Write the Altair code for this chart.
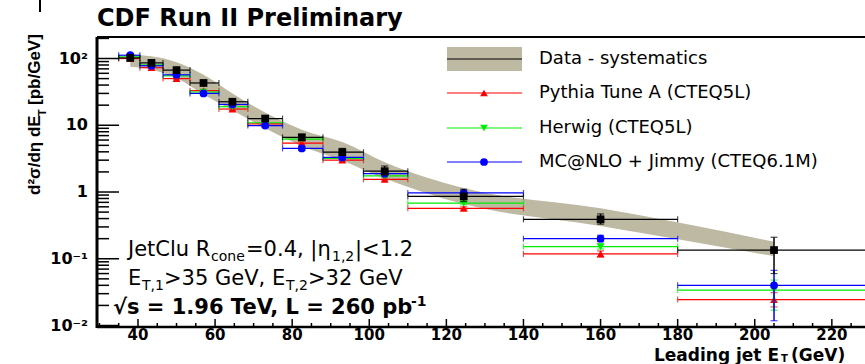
import altair as alt
import pandas as pd

# ---------------- data ----------------
et_center = [38, 43.5, 50, 57, 64.5, 73, 82.5, 93, 104, 124.5, 160, 205]
et_low = [35, 40.5, 46.5, 53.5, 61, 68.5, 77.5, 88, 98.5, 110, 140, 180]
et_high = [40.5, 46.5, 53.5, 61, 68.5, 77.5, 88, 98.5, 110, 140, 180, 230]

data_val = [102, 86, 67, 43, 22.5, 12.6, 6.6, 3.95, 2.05, 0.86, 0.39, 0.135]
data_lo = [95, 80, 62, 40, 20.5, 11.5, 6.0, 3.6, 1.8, 0.72, 0.33, 0.06]
data_hi = [109, 92, 72, 46, 24.5, 13.8, 7.3, 4.5, 2.45, 1.1, 0.47, 0.21]

band_lo = [75, 68, 51, 29, 16.8, 9.0, 4.9, 2.95, 1.6, 0.66, 0.31, 0.109]
band_hi = [115, 108, 88, 57, 30, 15.5, 8.6, 5.6, 2.8, 1.15, 0.57, 0.18]

pythia_val = [100, 73, 50, 33, 17.5, 10.5, 5.4, 3.0, 1.55, 0.57, 0.118, 0.0245]
pythia_lo = [96, 70, 48, 31.5, 16.7, 10.0, 5.1, 2.85, 1.47, 0.54, 0.106, 0.019]
pythia_hi = [104, 76, 52, 34.5, 18.3, 11.0, 5.7, 3.15, 1.63, 0.60, 0.131, 0.031]

herwig_val = [106, 80, 55, 31.5, 19, 10.9, 6.2, 3.2, 1.75, 0.68, 0.152, 0.034]
herwig_lo = [102, 77, 52.5, 30, 18.1, 10.4, 5.9, 3.05, 1.66, 0.645, 0.14, 0.017]
herwig_hi = [110, 83, 57.5, 33, 19.9, 11.4, 6.5, 3.35, 1.84, 0.715, 0.165, 0.048]

mcnlo_val = [112, 78, 57, 30, 20.5, 9.9, 4.5, 3.3, 1.88, 0.97, 0.2, 0.04]
mcnlo_lo = [107, 74.5, 54.5, 28.5, 19.5, 9.4, 4.2, 3.1, 1.78, 0.91, 0.18, 0.0118]
mcnlo_hi = [117, 81.5, 59.5, 31.5, 21.5, 10.4, 4.8, 3.5, 1.98, 1.03, 0.225, 0.067]

legend_labels = ["Data - systematics", "Pythia Tune A (CTEQ5L)", "Herwig (CTEQ5L)",
                 "MC@NLO + Jimmy (CTEQ6.1M)"]

x_major_ticks = [40, 60, 80, 100, 120, 140, 160, 180, 200, 220]
x_tick_labels = ["40", "60", "80", "100", "120", "140", "160", "180", "200", "220"]
x_minor_ticks = [v for v in range(30, 230, 5) if v % 20 != 0]
y_major_ticks = [0.01, 0.1, 1, 10, 100]
y_tick_labels = ["10⁻²", "10⁻¹", "1", "10", "10²"]
y_minor_ticks = [m * 10.0 ** e for e in range(-2, 3) for m in range(2, 10) if m * 10.0 ** e < 210]

# ---------------- styling / layout ----------------
PX, PY = 97, 37            # plot origin in page pixels
W, H = 768, 290
BAND = "#bdb9a3"
RED, GREEN, BLUE = "#ff0000", "#00ee00", "#0000ff"
FONT = "DejaVu Sans"

xs = alt.Scale(domain=[29.37, 228.6], zero=False, nice=False)
ys = alt.Scale(type="log", domain=[0.0095, 210], nice=False)

one = pd.DataFrame({"k": [0]})


def frame(vals, lo, hi):
    return pd.DataFrame({"x": et_center, "xlo": et_low, "xhi": et_high,
                         "y": vals, "ylo": lo, "yhi": hi})


def X(f):
    return alt.X(f, type="quantitative", scale=xs, axis=None)


def Y(f):
    return alt.Y(f, type="quantitative", scale=ys, axis=None)


def series(df, color, shape, size, lw=1.2):
    b = alt.Chart(df)
    return [
        b.mark_rule(color=color, strokeWidth=lw, clip=True).encode(x=X("xlo"), x2="xhi", y=Y("y")),
        b.mark_tick(color=color, orient="vertical", size=6, thickness=lw, clip=True).encode(x=X("xlo"), y=Y("y")),
        b.mark_tick(color=color, orient="vertical", size=6, thickness=lw, clip=True).encode(x=X("xhi"), y=Y("y")),
        b.mark_rule(color=color, strokeWidth=lw + 0.3, clip=True).encode(x=X("x"), y=Y("ylo"), y2="yhi"),
        b.mark_tick(color=color, orient="horizontal", size=7, thickness=lw, clip=True).encode(x=X("x"), y=Y("ylo")),
        b.mark_tick(color=color, orient="horizontal", size=7, thickness=lw, clip=True).encode(x=X("x"), y=Y("yhi")),
        b.mark_point(shape=shape, filled=True, size=size, color=color, opacity=1, clip=True).encode(x=X("x"), y=Y("y")),
    ]


def txt(s, ax, ay, size, weight="normal", align="left", baseline="alphabetic", angle=0, font=FONT):
    kw = dict(text=s, fontSize=size, fontWeight=weight, align=align, baseline=baseline,
              font=font, color="black")
    if angle:
        kw["angle"] = angle
    return alt.Chart(one).mark_text(**kw).encode(x=alt.value(ax - PX), y=alt.value(ay - PY))


def hline(ax1, ax2, ay, color="black", width=1.2):
    return alt.Chart(one).mark_rule(color=color, strokeWidth=width).encode(
        x=alt.value(ax1 - PX), x2=alt.value(ax2 - PX), y=alt.value(ay - PY))


layers = []

# systematics band
band_df = pd.DataFrame({"x": et_center, "lo": band_lo, "hi": band_hi})
layers.append(
    alt.Chart(band_df).mark_area(color=BAND, opacity=1, interpolate="monotone", clip=True).encode(
        x=X("x"), y=Y("lo"), y2="hi")
)

# MC predictions and data
layers += series(frame(pythia_val, pythia_lo, pythia_hi), RED, "triangle-up", 60)
layers += series(frame(herwig_val, herwig_lo, herwig_hi), GREEN, "triangle-down", 60)
layers += series(frame(mcnlo_val, mcnlo_lo, mcnlo_hi), BLUE, "circle", 60)
layers += series(frame(data_val, data_lo, data_hi), "black", "square", 60, lw=1.2)

# axis lines
layers.append(alt.Chart(one).mark_rule(color="black", strokeWidth=3).encode(
    x=alt.value(0), y=alt.value(0), y2=alt.value(H + 1)))
layers.append(alt.Chart(one).mark_rule(color="black", strokeWidth=2.5).encode(
    x=alt.value(0), x2=alt.value(W), y=alt.value(H)))

# inward ticks
layers.append(alt.Chart(pd.DataFrame({"v": y_major_ticks})).mark_rule(color="black", strokeWidth=1.5)
              .encode(y=Y("v"), x=alt.value(0), x2=alt.value(22)))
layers.append(alt.Chart(pd.DataFrame({"v": y_minor_ticks})).mark_rule(color="black", strokeWidth=1.5)
              .encode(y=Y("v"), x=alt.value(0), x2=alt.value(12)))
layers.append(alt.Chart(pd.DataFrame({"v": x_major_ticks})).mark_rule(color="black", strokeWidth=1.5)
              .encode(x=X("v"), y=alt.value(H), y2=alt.value(H - 8)))
layers.append(alt.Chart(pd.DataFrame({"v": x_minor_ticks})).mark_rule(color="black", strokeWidth=1.5)
              .encode(x=X("v"), y=alt.value(H), y2=alt.value(H - 4)))

# tick labels
layers.append(alt.Chart(pd.DataFrame({"v": x_major_ticks, "lab": x_tick_labels}))
              .mark_text(font=FONT, fontWeight="bold", fontSize=15, align="center",
                         baseline="alphabetic", color="black")
              .encode(x=X("v"), y=alt.value(340 - PY), text="lab:N"))
layers.append(alt.Chart(pd.DataFrame({"v": y_major_ticks, "lab": y_tick_labels}))
              .mark_text(font=FONT, fontWeight="bold", fontSize=16, align="right",
                         baseline="middle", color="black")
              .encode(y=Y("v"), x=alt.value(88 - PX), text="lab:N"))

# frame top line and small corner mark
layers.append(hline(97, 865, 37, width=2))
layers.append(alt.Chart(one).mark_rule(color="black", strokeWidth=2).encode(
    x=alt.value(40 - PX), y=alt.value(0 - PY), y2=alt.value(12 - PY)))

# legend
layers.append(alt.Chart(one).mark_rect(color=BAND).encode(
    x=alt.value(447 - PX), x2=alt.value(522 - PX), y=alt.value(47 - PY), y2=alt.value(71 - PY)))
layers.append(hline(447, 522, 59))
rows = [93, 128, 162]
for ry, col, shp in zip(rows, [RED, GREEN, BLUE], ["triangle-up", "triangle-down", "circle"]):
    layers.append(hline(447, 522, ry, color=col))
    layers.append(alt.Chart(one).mark_point(shape=shp, filled=True, size=60, color=col, opacity=1)
                  .encode(x=alt.value(484 - PX), y=alt.value(ry - PY)))
for lab, ry in zip(legend_labels, [59] + rows):
    layers.append(txt(lab, 539, ry, 18, baseline="middle"))

# title
layers.append(txt("CDF Run II Preliminary", 97, 26, 24, weight="bold"))

# y title (rotated)
layers.append(txt("d²σ/dη dE", 40, 195, 17, weight="bold", angle=270, font="Liberation Sans"))
layers.append(txt("T", 46, 116, 11, weight="bold", angle=270, font="Liberation Sans"))
layers.append(txt("[pb/GeV]", 40, 105, 17, weight="bold", angle=270, font="Liberation Sans"))

# x title
layers.append(txt("Leading jet E", 779, 361, 17, weight="bold", align="right"))
layers.append(txt("T", 781, 362, 10, weight="bold"))
layers.append(txt("(GeV)", 791, 361, 17, weight="bold"))

# annotations
layers.append(txt("JetClu R", 128, 256, 21))
layers.append(txt("cone", 211, 261, 14))
layers.append(txt("=0.4, |η", 246, 256, 21))
layers.append(txt("1,2", 332, 261, 14))
layers.append(txt("|<1.2", 355, 256, 21))

layers.append(txt("E", 128, 285, 21))
layers.append(txt("T,1", 142, 290, 14))
layers.append(txt(">35 GeV, E", 164, 285, 21))
layers.append(txt("T,2", 286, 290, 14))
layers.append(txt(">32 GeV", 308, 285, 21))

layers.append(txt("√s = 1.96 TeV, L = 260 pb", 113, 314, 21, weight="bold"))
layers.append(txt("-1", 411, 306, 14, weight="bold"))

chart = alt.layer(*layers).properties(
    width=W, height=H,
    padding={"left": PX, "top": PY, "right": 0, "bottom": 37},
    autosize=alt.AutoSizeParams(type="none"),
    background="white",
).configure_view(stroke=None)

chart.save("out.html", embed_options={"renderer": "svg", "actions": False})
